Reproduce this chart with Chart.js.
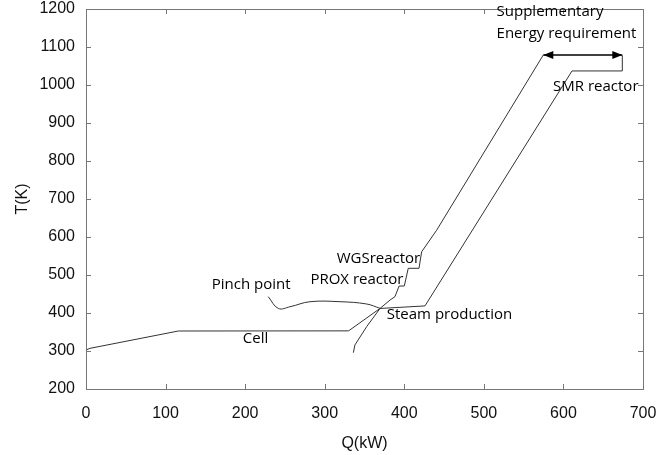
<!DOCTYPE html>
<html>
<head>
<meta charset="utf-8">
<script src="https://cdn.jsdelivr.net/npm/chart.js@4/dist/chart.umd.min.js"></script>
<style>
  body { margin: 0; background: #fff; }
  canvas { display: block; }
</style>
</head>
<body>
<canvas id="graficoPinch" width="671" height="455"></canvas>
<script>
// composite curve through Cell / PROX / WGS up to the supplementary energy level
var curvaAQ = [0, 0.5, 5, 116, 330, 369.5, 382, 388.3, 393.5, 400, 405, 418.5, 421.8, 440.7, 574.7];
var curvaAT = [294, 303, 307, 352.6, 353, 412, 434, 443, 471, 471, 517.6, 517.6, 561, 618, 1079];

// curve through steam production and SMR reactor
var curvaBQ = [336, 338, 352.7, 369.5, 426, 610.8, 674, 674];
var curvaBT = [295.5, 316, 364, 412, 418.6, 1037, 1037, 1078];

// pinch point pointer line
var pinchQ = [229, 241.7, 256.4, 281.5, 319.2, 352.7, 369.5];
var pinchT = [443, 412, 416.5, 429.7, 429.7, 423.7, 412.3];

// supplementary energy arrow
var setaQ = [574.7, 674];
var setaT = [1079, 1079];

// text labels
var rotulos = ['Supplementary', 'Energy requirement', 'SMR reactor', 'WGSreactor', 'PROX reactor', 'Pinch point', 'Cell', 'Steam production'];
var rotulosQ = [516, 516, 587, 315, 282, 158, 197, 378];
var rotulosT = [1192, 1134, 995, 542, 487, 474, 332, 395];

// axis ticks
var ticksQ = [0, 100, 200, 300, 400, 500, 600, 700];
var ticksT = [200, 300, 400, 500, 600, 700, 800, 900, 1000, 1100, 1200];

function Pontos(qs, ts) {
    var pts = [];
    for (var i = 0; i < qs.length; i++) pts.push({ x: qs[i], y: ts[i] });
    return pts;
}

function Linha(qs, ts, tension) {
    return {
        data: Pontos(qs, ts),
        showLine: true,
        borderColor: '#333',
        borderWidth: 1,
        pointRadius: 0,
        tension: tension,
        fill: false
    };
}

function Ponta(ctx, tip, from) {
    var ang = Math.atan2(tip.y - from.y, tip.x - from.x);
    var len = 10, half = 4;
    ctx.beginPath();
    ctx.moveTo(tip.x, tip.y);
    ctx.lineTo(tip.x - len * Math.cos(ang) + half * Math.sin(ang), tip.y - len * Math.sin(ang) - half * Math.cos(ang));
    ctx.lineTo(tip.x - len * Math.cos(ang) - half * Math.sin(ang), tip.y - len * Math.sin(ang) + half * Math.cos(ang));
    ctx.closePath();
    ctx.fill();
}

var decoracao = {
    id: 'decoracao',
    afterDatasetsDraw: function (chart) {
        var ctx = chart.ctx;
        var a = chart.chartArea;
        var sx = chart.scales.x, sy = chart.scales.y;
        ctx.save();
        ctx.strokeStyle = '#777';
        ctx.lineWidth = 1;
        ctx.strokeRect(Math.round(a.left) + 0.5, Math.round(a.top) + 0.5, Math.round(a.right - a.left), Math.round(a.bottom - a.top));

        ctx.beginPath();
        ticksQ.forEach(function (v) {
            var px = Math.round(sx.getPixelForValue(v)) + 0.5;
            ctx.moveTo(px, a.bottom); ctx.lineTo(px, a.bottom - 5);
            ctx.moveTo(px, a.top); ctx.lineTo(px, a.top + 5);
        });
        ticksT.forEach(function (v) {
            var py = Math.round(sy.getPixelForValue(v)) + 0.5;
            ctx.moveTo(a.left, py); ctx.lineTo(a.left + 5, py);
            ctx.moveTo(a.right, py); ctx.lineTo(a.right - 5, py);
        });
        ctx.stroke();

        // arrow heads
        var seta = chart.getDatasetMeta(3).data;
        ctx.fillStyle = '#000';
        Ponta(ctx, seta[0], seta[1]);
        Ponta(ctx, seta[1], seta[0]);

        ctx.font = '15px "Open Sans"';
        ctx.fillStyle = '#000';
        ctx.textAlign = 'left';
        ctx.textBaseline = 'middle';
        for (var i = 0; i < rotulos.length; i++) {
            ctx.fillText(rotulos[i], sx.getPixelForValue(rotulosQ[i]), sy.getPixelForValue(rotulosT[i]));
        }
        ctx.restore();
    }
};

var ctx = document.getElementById('graficoPinch').getContext('2d');

var setaDataset = Linha(setaQ, setaT, 0);
setaDataset.borderColor = '#000';
setaDataset.borderWidth = 1.5;

var grafico = new Chart(ctx, {
    type: 'scatter',
    data: {
        datasets: [
            Linha(curvaAQ, curvaAT, 0),
            Linha(curvaBQ, curvaBT, 0),
            Linha(pinchQ, pinchT, 0.4),
            setaDataset
        ]
    },
    options: {
        responsive: false,
        animation: false,
        layout: { padding: { top: 9, right: 28, left: 0, bottom: 0 } },
        plugins: {
            legend: { display: false },
            tooltip: { enabled: false }
        },
        scales: {
            x: {
                type: 'linear',
                min: 0,
                max: 700,
                afterBuildTicks: function (scale) {
                    scale.ticks = ticksQ.map(function (v) { return { value: v }; });
                },
                afterFit: function (scale) {
                    scale.height = 66;
                    scale.paddingLeft = 0;
                    scale.paddingRight = 0;
                },
                grid: { display: false, drawTicks: false },
                border: { display: false },
                ticks: {
                    padding: 15,
                    maxRotation: 0,
                    color: '#111',
                    font: { family: '"Liberation Sans", Arial', size: 16 },
                    callback: function (v) { return String(v); }
                },
                title: {
                    display: true,
                    text: 'Q(kW)',
                    color: '#111',
                    font: { family: '"Liberation Sans", Arial', size: 16 },
                    padding: { top: 0, bottom: 2 }
                }
            },
            y: {
                type: 'linear',
                min: 200,
                max: 1200,
                afterBuildTicks: function (scale) {
                    scale.ticks = ticksT.map(function (v) { return { value: v }; });
                },
                afterFit: function (scale) {
                    scale.width = 86;
                    scale.paddingTop = 0;
                    scale.paddingBottom = 0;
                },
                grid: { display: false, drawTicks: false },
                border: { display: false },
                ticks: {
                    padding: 11,
                    color: '#111',
                    font: { family: '"Liberation Sans", Arial', size: 16 },
                    callback: function (v) { return String(v); }
                },
                title: {
                    display: true,
                    text: 'T(K)',
                    color: '#111',
                    font: { family: '"Liberation Sans", Arial', size: 16 },
                    padding: { top: 13, bottom: 0 }
                }
            }
        }
    },
    plugins: [decoracao]
});
</script>
</body>
</html>
